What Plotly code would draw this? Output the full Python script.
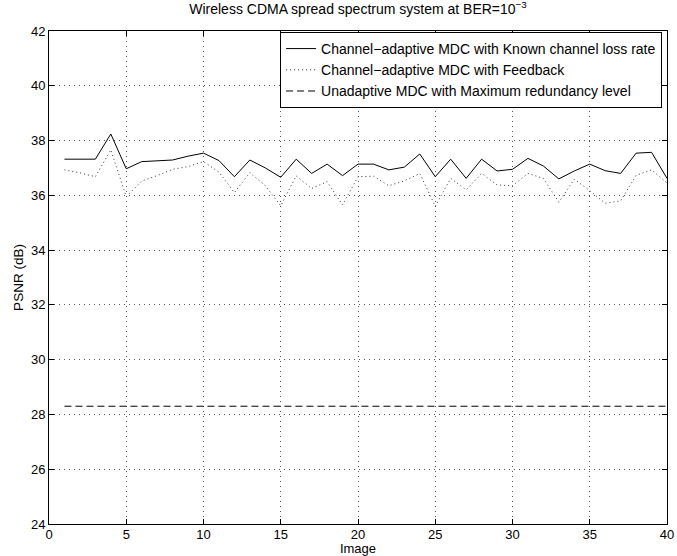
import plotly.graph_objects as go

images = list(range(1, 41))
known = [37.32, 37.32, 37.32, 38.24, 36.97, 37.23, 37.25, 37.29, 37.43, 37.54,
         37.27, 36.68, 37.29, 37.0, 36.66, 37.32, 36.8, 37.14, 36.72, 37.14,
         37.14, 36.93, 37.03, 37.51, 36.68, 37.32, 36.62, 37.32, 36.89, 36.95,
         37.35, 37.07, 36.6, 36.89, 37.14, 36.9, 36.8, 37.54, 37.57, 36.62]
feedback = [36.93, 36.82, 36.68, 37.66, 35.95, 36.52, 36.72, 36.95, 37.05, 37.23,
            36.85, 36.1, 36.83, 36.35, 35.62, 36.71, 36.25, 36.5, 35.65, 36.68,
            36.7, 36.35, 36.53, 36.8, 35.6, 36.62, 36.2, 36.8, 36.38, 36.35,
            36.8, 36.62, 35.75, 36.59, 36.17, 35.71, 35.8, 36.73, 36.93, 36.45]
unadaptive = [28.3] * 40

names = ["Channel\u2212adaptive MDC with Known channel loss rate",
         "Channel\u2212adaptive MDC with Feedback",
         "Unadaptive MDC with Maximum redundancy level"]

fig = go.Figure()
fig.add_trace(go.Scatter(x=images, y=known, mode="lines", name=names[0],
                         line=dict(color="black", width=1, dash="solid")))
fig.add_trace(go.Scatter(x=images, y=feedback, mode="lines", name=names[1],
                         line=dict(color="#333333", width=1, dash="1px,3px")))
fig.add_trace(go.Scatter(x=images, y=unadaptive, mode="lines", name=names[2],
                         line=dict(color="black", width=1, dash="7px,4px")))

axis_common = dict(showline=True, linecolor="black", linewidth=1, mirror="ticks",
                   ticks="inside", ticklen=5, tickcolor="black",
                   showgrid=True, gridcolor="#555555", griddash="1px,4px", gridwidth=1,
                   zeroline=False, tickfont=dict(size=13, color="black"),
                   automargin=False)

fig.update_layout(
    width=677, height=556,
    margin=dict(l=49, r=10, t=31, b=32),
    paper_bgcolor="white", plot_bgcolor="white",
    font=dict(family="Liberation Sans, Arial, sans-serif", size=13, color="black"),
    title=dict(text="Wireless CDMA spread spectrum system at BER=10<sup>\u22123</sup>",
               x=(49 + 667) / 2 / 677, xanchor="center", y=0.993, yanchor="top",
               font=dict(size=14)),
    xaxis=dict(range=[0, 40], tickvals=[0, 5, 10, 15, 20, 25, 30, 35, 40],
               ticklabelstandoff=-2,
               title=dict(text="Image", standoff=0, font=dict(size=13)), **axis_common),
    yaxis=dict(range=[24, 42], tickvals=list(range(24, 43, 2)),
               title=dict(text="PSNR (dB)", standoff=4, font=dict(size=13.5)), **axis_common),
    legend=dict(x=0.992, xanchor="right", y=0.998, yanchor="top",
                bgcolor="white", bordercolor="black", borderwidth=1,
                font=dict(size=14), tracegroupgap=0, itemwidth=30),
    showlegend=True,
)

fig.write_html("out.html")
